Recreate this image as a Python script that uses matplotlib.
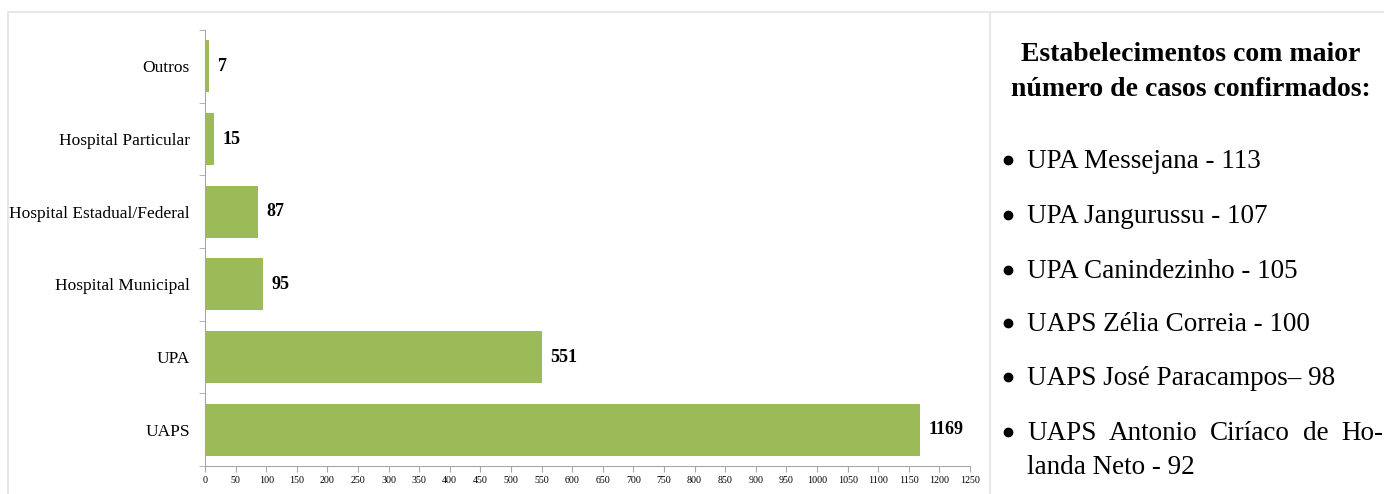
import matplotlib.pyplot as plt
from matplotlib.lines import Line2D
from matplotlib.patches import Rectangle

plt.rcParams['font.family'] = ['Liberation Serif', 'DejaVu Serif']

# casos confirmados por tipo de estabelecimento
categorias = ['UAPS', 'UPA', 'Hospital Municipal', 'Hospital Estadual/Federal',
              'Hospital Particular', 'Outros']
casos = [1169, 551, 95, 87, 15, 7]

titulo = 'Estabelecimentos com maior\nnúmero de casos confirmados:'
destaques = ['UPA Messejana - 113', 'UPA Jangurussu - 107', 'UPA Canindezinho - 105',
             'UAPS Zélia Correia - 100', 'UAPS José Paracampos– 98']
ultimo = ['UAPS', 'Antonio', 'Ciríaco', 'de', 'Ho-']
ultimo_2 = 'landa Neto - 92'

verde = '#9BBB59'
cinza = '#A6A6A6'

fig = plt.figure(figsize=(13.84, 4.94), dpi=100)
W, H = 1384, 494

# moldura da tabela
borda = '#E3E3E3'
fig.add_artist(Rectangle((8 / W, -0.1), 1.1, (494 - 12) / H + 0.1, transform=fig.transFigure,
                         fill=False, edgecolor=borda, linewidth=1.2))
fig.add_artist(Line2D([990 / W, 990 / W], [0, 1 - 12 / H], transform=fig.transFigure,
                      color=borda, linewidth=1.2))

ax = fig.add_axes([205 / W, 1 - 466 / H, (970 - 205) / W, (466 - 30) / H])
y = range(len(categorias))
ax.barh(y, casos, height=0.72, color=verde)
for yi, v in zip(y, casos):
    ax.annotate(str(v), (v, yi), xytext=(6, 0), textcoords='offset points',
                ha='left', va='center', fontsize=13, fontweight='bold')

ax.set_xlim(0, 1250)
ax.set_ylim(-0.5, len(categorias) - 0.5)
ax.set_xticks(range(0, 1251, 50))
ax.tick_params(axis='x', labelsize=7.2, color=cinza, length=4, pad=3)
ax.set_yticks(list(y))
ax.set_yticklabels(categorias, fontsize=12.5)
ax.tick_params(axis='y', length=0, pad=11)
ax.set_yticks([i - 0.5 for i in range(len(categorias) + 1)], minor=True)
ax.tick_params(axis='y', which='minor', length=4, color=cinza)
for s in ['top', 'right']:
    ax.spines[s].set_visible(False)
for s in ['left', 'bottom']:
    ax.spines[s].set_color(cinza)

# painel de texto à direita
fig.text(1191 / W, 1 - 72 / H, titulo, ha='center', va='center', fontsize=20,
         fontweight='bold', linespacing=1.5)

tam = 19.5


def linha(yy, texto, bullet=True):
    # yy = meio da altura das maiúsculas, em pixels a partir do topo
    if bullet:
        fig.add_artist(Line2D([1008 / W], [1 - (yy + 2) / H], transform=fig.transFigure,
                              marker='o', markersize=6, color='black', linestyle='none'))
    return fig.text(1027 / W, 1 - (yy + 9.5) / H, texto, ha='left', va='baseline',
                    fontsize=tam)


linhas_y = [158, 213, 268, 321, 375]
for yy, t in zip(linhas_y, destaques):
    linha(yy, t)

# última linha justificada entre as margens do painel
x0, x1 = 1027, 1383
palavras = [linha(430, w, bullet=(i == 0)) for i, w in enumerate(ultimo)]
renderer = fig.canvas.get_renderer()
larg = [p.get_window_extent(renderer).width for p in palavras]
gap = (x1 - x0 - sum(larg)) / (len(palavras) - 1)
x = x0
for p, w in zip(palavras, larg):
    p.set_x(x / W)
    x += w + gap
linha(464, ultimo_2, bullet=False)

fig.savefig('out.png', dpi=100)
